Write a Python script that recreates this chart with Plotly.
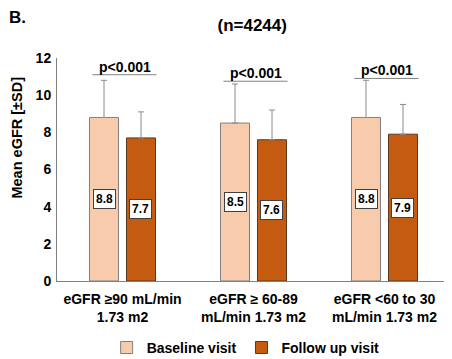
import plotly.graph_objects as go

categories = ["eGFR ≥90 mL/min<br>1.73 m2", "eGFR ≥ 60-89<br>mL/min 1.73 m2", "eGFR <60 to 30<br>mL/min 1.73 m2"]
baseline = [8.8, 8.5, 8.8]
baseline_sd = [2.0, 2.1, 2.0]
followup = [7.7, 7.6, 7.9]
followup_sd = [1.4, 1.6, 1.6]
p_values = ["p<0.001", "p<0.001", "p<0.001"]
bracket_y = [11.1, 10.75, 10.9]

FONT = "Arial, 'Liberation Sans', sans-serif"

fig = go.Figure()
fig.add_trace(go.Bar(
    x=categories, y=baseline, name="<b>Baseline visit</b>",
    marker=dict(color="#F8CBAD", line=dict(color="#808080", width=1)),
    error_y=dict(type="data", array=baseline_sd, arrayminus=[0]*3, symmetric=False,
                 color="#8c8c8c", thickness=1, width=3),
))
fig.add_trace(go.Bar(
    x=categories, y=followup, name="<b>Follow up visit</b>",
    marker=dict(color="#C55A11", line=dict(color="#5a3a20", width=1)),
    error_y=dict(type="data", array=followup_sd, arrayminus=[0]*3, symmetric=False,
                 color="#8c8c8c", thickness=1, width=3),
))

off = 0.141
for i in range(3):
    for v, dx in ((baseline[i], -off), (followup[i], off)):
        fig.add_annotation(x=i + dx, y=v / 2, xref="x", yref="y", text=f"<b>{v}</b>",
                           showarrow=False, bgcolor="white", bordercolor="#404040",
                           borderwidth=1, borderpad=2,
                           font=dict(family=FONT, size=12, color="black"))
    fig.add_shape(type="line", xref="x", yref="y", x0=i - 0.23, x1=i + 0.26,
                  y0=bracket_y[i], y1=bracket_y[i], line=dict(color="#808080", width=1))
    fig.add_annotation(x=i + 0.02, y=bracket_y[i], xref="x", yref="y", text=f"<b>{p_values[i]}</b>",
                       showarrow=False, yanchor="bottom", yshift=-2,
                       font=dict(family=FONT, size=14, color="black"))

fig.add_annotation(x=-0.127, y=1.235, xref="paper", yref="paper", text="<b>B.</b>",
                   showarrow=False, xanchor="left", yanchor="top",
                   font=dict(family=FONT, size=17, color="black"))
fig.add_annotation(x=-0.102, y=0.643, xref="paper", yref="paper", text="<b>Mean eGFR [±SD]</b>",
                   showarrow=False, textangle=-90, xanchor="center", yanchor="middle",
                   font=dict(family=FONT, size=14.5, color="black"))

fig.update_layout(
    width=444, height=351,
    margin=dict(l=49, r=2, t=50, b=78, autoexpand=False),
    paper_bgcolor="white", plot_bgcolor="white",
    title=dict(text="<b>(n=4244)</b>", x=0.55, xanchor="center", y=0.952, yanchor="middle",
               font=dict(family=FONT, size=17, color="black")),
    barmode="group", bargap=0.435, bargroupgap=0.216,
    font=dict(family=FONT, size=13, color="black"),
    showlegend=True,
    legend=dict(orientation="h", x=0.48, xanchor="center", y=-0.30, yanchor="middle",
                font=dict(family=FONT, size=14, color="black"), itemwidth=30,
                traceorder="normal"),
    xaxis=dict(showline=True, linecolor="#808080", linewidth=1, ticks="outside",
               ticklen=5, tickcolor="rgba(0,0,0,0)", automargin=False,
               tickprefix="<b>", ticksuffix="</b>",
               tickfont=dict(family=FONT, size=14, color="black"), showgrid=False),
    yaxis=dict(range=[0, 12], dtick=2, showline=True, linecolor="#808080", linewidth=1,
               showgrid=False, zeroline=False, ticks="outside", ticklen=2,
               tickcolor="rgba(0,0,0,0)", automargin=False,
               tickprefix="<b>", ticksuffix="</b>",
               tickfont=dict(family=FONT, size=14, color="black")),
)

fig.write_html("out.html")
